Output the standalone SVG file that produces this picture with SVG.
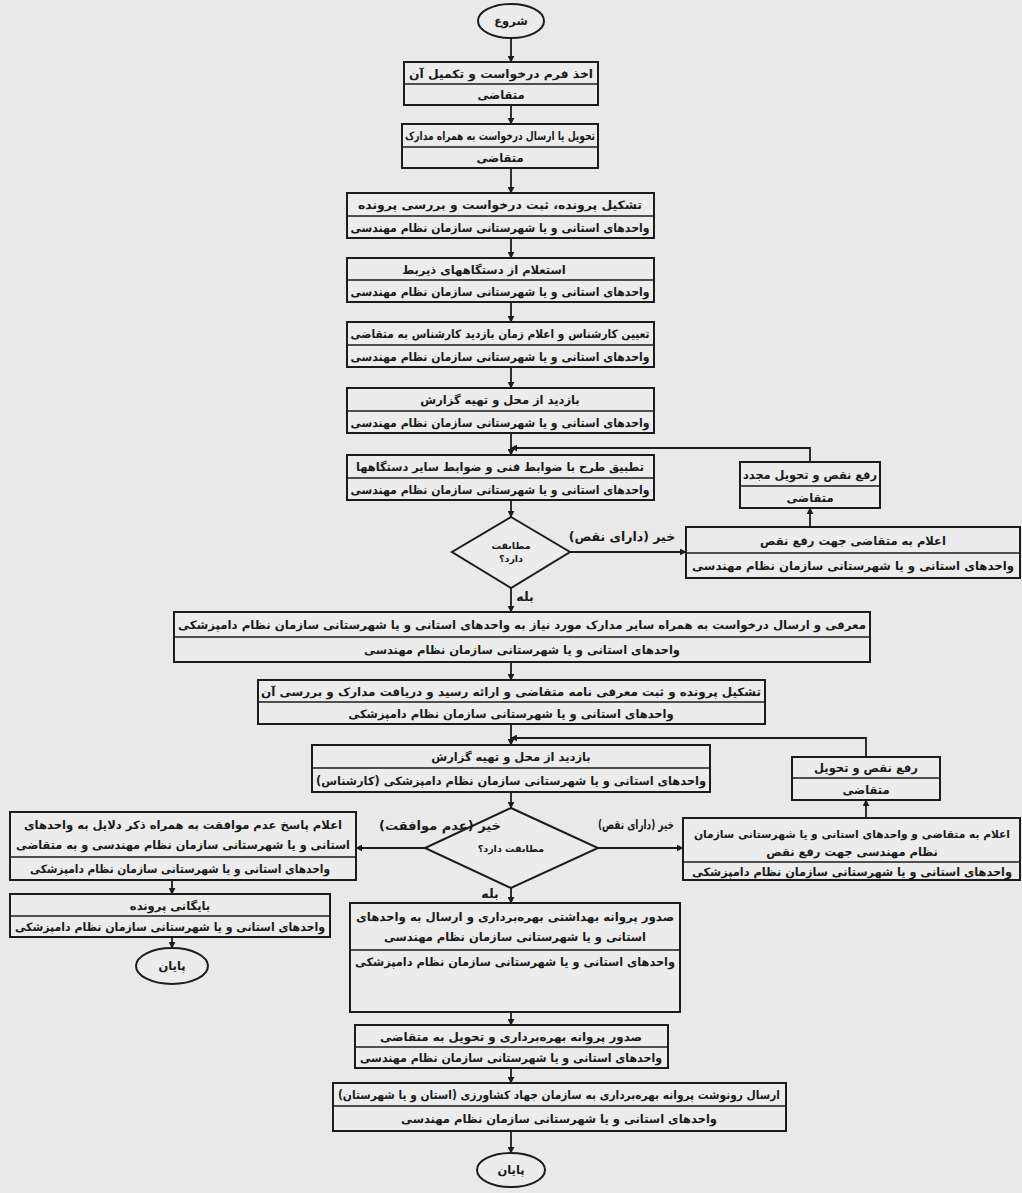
<svg xmlns="http://www.w3.org/2000/svg" width="1022" height="1193" viewBox="0 0 1022 1193">
<defs>
<style>
.bg{fill:#e9e9e9}
.box{fill:#ececec;stroke:#1c1c1c;stroke-width:2}
.div{stroke:#1c1c1c;stroke-width:1.6}
.t{font-family:"DejaVu Sans","Noto Sans",sans-serif;font-size:11.5px;font-weight:bold;fill:#1a1a1a;text-anchor:middle;direction:rtl}
.lbl{font-family:"DejaVu Sans","Noto Sans",sans-serif;font-size:12.5px;font-weight:bold;fill:#1a1a1a;text-anchor:middle;direction:rtl}
.sm{font-family:"DejaVu Sans","Noto Sans",sans-serif;font-size:9.5px;font-weight:bold;fill:#1a1a1a;text-anchor:middle;direction:rtl}
.c{fill:none;stroke:#1c1c1c;stroke-width:1.8}
</style>
<marker id="ah" viewBox="0 0 10 10" refX="9" refY="5" markerWidth="7" markerHeight="7" orient="auto" markerUnits="userSpaceOnUse">
<path d="M0,0 L10,5 L0,10 z" fill="#1c1c1c"/>
</marker>
</defs>
<rect class="bg" x="0" y="0" width="1022" height="1193"/>

<g id="start">
<ellipse class="box" cx="511" cy="21" rx="33" ry="17"/>
<text class="t" x="511" y="25">شروع</text>
</g>

<g id="n1">
<rect class="box" x="404" y="62" width="194" height="43"/>
<line class="div" x1="404" y1="84" x2="598" y2="84"/>
<text class="t" x="501" y="78" textLength="184" lengthAdjust="spacingAndGlyphs">اخذ فرم درخواست و تکمیل آن</text>
<text class="t" x="501" y="99">متقاضی</text>
</g>

<g id="n2">
<rect class="box" x="402" y="124" width="196" height="44"/>
<line class="div" x1="402" y1="147" x2="598" y2="147"/>
<text class="t" x="500" y="140" textLength="190" lengthAdjust="spacingAndGlyphs">تحویل یا ارسال درخواست به همراه مدارک</text>
<text class="t" x="500" y="162">متقاضی</text>
</g>

<g id="n3">
<rect class="box" x="347" y="193" width="307" height="45"/>
<line class="div" x1="347" y1="216" x2="654" y2="216"/>
<text class="t" x="500" y="209" textLength="284" lengthAdjust="spacingAndGlyphs">تشکیل پرونده، ثبت درخواست و بررسی پرونده</text>
<text class="t" x="500" y="232" textLength="299" lengthAdjust="spacingAndGlyphs">واحدهای استانی و یا شهرستانی سازمان نظام مهندسی</text>
</g>

<g id="n4">
<rect class="box" x="347" y="258" width="307" height="44"/>
<line class="div" x1="347" y1="280" x2="654" y2="280"/>
<text class="t" x="484" y="274">استعلام از دستگاههای ذیربط</text>
<text class="t" x="500" y="296" textLength="299" lengthAdjust="spacingAndGlyphs">واحدهای استانی و یا شهرستانی سازمان نظام مهندسی</text>
</g>

<g id="n5">
<rect class="box" x="347" y="322" width="307" height="45"/>
<line class="div" x1="347" y1="345" x2="654" y2="345"/>
<text class="t" x="500" y="338" textLength="299" lengthAdjust="spacingAndGlyphs">تعیین کارشناس و اعلام زمان بازدید کارشناس به متقاضی</text>
<text class="t" x="500" y="361" textLength="299" lengthAdjust="spacingAndGlyphs">واحدهای استانی و یا شهرستانی سازمان نظام مهندسی</text>
</g>

<g id="n6">
<rect class="box" x="347" y="388" width="307" height="45"/>
<line class="div" x1="347" y1="411" x2="654" y2="411"/>
<text class="t" x="500" y="404">بازدید از محل و تهیه گزارش</text>
<text class="t" x="500" y="427" textLength="299" lengthAdjust="spacingAndGlyphs">واحدهای استانی و یا شهرستانی سازمان نظام مهندسی</text>
</g>

<g id="n7">
<rect class="box" x="347" y="455" width="307" height="45"/>
<line class="div" x1="347" y1="478" x2="654" y2="478"/>
<text class="t" x="500" y="471" textLength="288" lengthAdjust="spacingAndGlyphs">تطبیق طرح با ضوابط فنی و ضوابط سایر دستگاهها</text>
<text class="t" x="500" y="494" textLength="299" lengthAdjust="spacingAndGlyphs">واحدهای استانی و یا شهرستانی سازمان نظام مهندسی</text>
</g>

<g id="d1">
<polygon class="box" points="511,517 570,552 511,588 452,552"/>
<text class="sm" x="511" y="549">مطابقت</text>
<text class="sm" x="511" y="562">دارد؟</text>
</g>

<g id="nA">
<rect class="box" x="686" y="527" width="334" height="51"/>
<line class="div" x1="686" y1="553" x2="1020" y2="553"/>
<text class="t" x="853" y="545">اعلام به متقاضی جهت رفع نقص</text>
<text class="t" x="853" y="570" textLength="322" lengthAdjust="spacingAndGlyphs">واحدهای استانی و یا شهرستانی سازمان نظام مهندسی</text>
</g>

<g id="nB">
<rect class="box" x="740" y="462" width="140" height="46"/>
<line class="div" x1="740" y1="486" x2="880" y2="486"/>
<text class="t" x="810" y="479" textLength="134" lengthAdjust="spacingAndGlyphs">رفع نقص و تحویل مجدد</text>
<text class="t" x="810" y="502">متقاضی</text>
</g>

<g id="n8">
<rect class="box" x="174" y="612" width="696" height="50"/>
<line class="div" x1="174" y1="637" x2="870" y2="637"/>
<text class="t" x="522" y="629" textLength="688" lengthAdjust="spacingAndGlyphs">معرفی و ارسال درخواست به همراه سایر مدارک مورد نیاز به واحدهای استانی و یا شهرستانی سازمان نظام دامپزشکی</text>
<text class="t" x="522" y="654">واحدهای استانی و یا شهرستانی سازمان نظام مهندسی</text>
</g>

<g id="n9">
<rect class="box" x="258" y="680" width="507" height="44"/>
<line class="div" x1="258" y1="702" x2="765" y2="702"/>
<text class="t" x="511" y="696" textLength="500" lengthAdjust="spacingAndGlyphs">تشکیل پرونده و ثبت معرفی نامه متقاضی و ارائه رسید و دریافت مدارک و بررسی آن</text>
<text class="t" x="511" y="718">واحدهای استانی و یا شهرستانی سازمان نظام دامپزشکی</text>
</g>

<g id="n10">
<rect class="box" x="312" y="745" width="398" height="47"/>
<line class="div" x1="312" y1="768" x2="710" y2="768"/>
<text class="t" x="511" y="761">بازدید از محل و تهیه گزارش</text>
<text class="t" x="511" y="785" textLength="390" lengthAdjust="spacingAndGlyphs">واحدهای استانی و یا شهرستانی سازمان نظام دامپزشکی (کارشناس)</text>
</g>

<g id="d2">
<polygon class="box" points="511,808 598,848 511,888 425,848"/>
<text class="sm" x="511" y="852">مطابقت دارد؟</text>
</g>

<g id="nC">
<rect class="box" x="683" y="818" width="337" height="62"/>
<line class="div" x1="683" y1="862" x2="1020" y2="862"/>
<text class="t" x="852" y="838" style="font-size:11px" textLength="316" lengthAdjust="spacingAndGlyphs">اعلام به متقاضی و واحدهای استانی و یا شهرستانی سازمان</text>
<text class="t" x="852" y="856">نظام مهندسی جهت رفع نقص</text>
<text class="t" x="852" y="876" textLength="320" lengthAdjust="spacingAndGlyphs">واحدهای استانی و یا شهرستانی سازمان نظام دامپزشکی</text>
</g>

<g id="nD">
<rect class="box" x="792" y="757" width="148" height="43"/>
<line class="div" x1="792" y1="778" x2="940" y2="778"/>
<text class="t" x="866" y="772">رفع نقص و تحویل</text>
<text class="t" x="866" y="794">متقاضی</text>
</g>

<g id="nE">
<rect class="box" x="10" y="812" width="346" height="68"/>
<line class="div" x1="10" y1="857" x2="356" y2="857"/>
<text class="t" x="183" y="829" textLength="318" lengthAdjust="spacingAndGlyphs">اعلام پاسخ عدم موافقت به همراه ذکر دلایل به واحدهای</text>
<text class="t" x="183" y="849" textLength="334" lengthAdjust="spacingAndGlyphs">استانی و یا شهرستانی سازمان نظام مهندسی و به متقاضی</text>
<text class="t" x="180" y="873" textLength="300" lengthAdjust="spacingAndGlyphs">واحدهای استانی و یا شهرستانی سازمان نظام دامپزشکی</text>
</g>

<g id="nF">
<rect class="box" x="10" y="894" width="320" height="43"/>
<line class="div" x1="10" y1="916" x2="330" y2="916"/>
<text class="t" x="170" y="910">بایگانی پرونده</text>
<text class="t" x="170" y="931" textLength="310" lengthAdjust="spacingAndGlyphs">واحدهای استانی و یا شهرستانی سازمان نظام دامپزشکی</text>
</g>

<g id="end1">
<ellipse class="box" cx="172" cy="966" rx="36" ry="18"/>
<text class="t" x="172" y="970">پایان</text>
</g>

<g id="nG">
<rect class="box" x="350" y="903" width="330" height="109"/>
<line class="div" x1="350" y1="950" x2="680" y2="950"/>
<text class="t" x="515" y="921" textLength="318" lengthAdjust="spacingAndGlyphs">صدور پروانه بهداشتی بهره‌برداری و ارسال به واحدهای</text>
<text class="t" x="515" y="941" textLength="262" lengthAdjust="spacingAndGlyphs">استانی و یا شهرستانی سازمان نظام مهندسی</text>
<text class="t" x="515" y="966" textLength="320" lengthAdjust="spacingAndGlyphs">واحدهای استانی و یا شهرستانی سازمان نظام دامپزشکی</text>
</g>

<g id="nH">
<rect class="box" x="355" y="1025" width="313" height="43"/>
<line class="div" x1="355" y1="1047" x2="668" y2="1047"/>
<text class="t" x="511" y="1041" textLength="262" lengthAdjust="spacingAndGlyphs">صدور پروانه بهره‌برداری و تحویل به متقاضی</text>
<text class="t" x="511" y="1062" textLength="302" lengthAdjust="spacingAndGlyphs">واحدهای استانی و یا شهرستانی سازمان نظام مهندسی</text>
</g>

<g id="nI">
<rect class="box" x="333" y="1083" width="453" height="48"/>
<line class="div" x1="333" y1="1106" x2="786" y2="1106"/>
<text class="t" x="559" y="1099" textLength="442" lengthAdjust="spacingAndGlyphs">ارسال رونوشت پروانه بهره‌برداری به سازمان جهاد کشاورزی (استان و یا شهرستان)</text>
<text class="t" x="559" y="1123">واحدهای استانی و یا شهرستانی سازمان نظام مهندسی</text>
</g>

<g id="end2">
<ellipse class="box" cx="511" cy="1170" rx="34" ry="17"/>
<text class="t" x="511" y="1174">پایان</text>
</g>

<g id="connectors">
<path class="c" d="M511,38 V62" marker-end="url(#ah)"/>
<path class="c" d="M511,105 V124" marker-end="url(#ah)"/>
<path class="c" d="M511,168 V193" marker-end="url(#ah)"/>
<path class="c" d="M511,238 V258" marker-end="url(#ah)"/>
<path class="c" d="M511,302 V322" marker-end="url(#ah)"/>
<path class="c" d="M511,367 V388" marker-end="url(#ah)"/>
<path class="c" d="M511,433 V455" marker-end="url(#ah)"/>
<path class="c" d="M511,500 V517" marker-end="url(#ah)"/>
<path class="c" d="M570,552 H686" marker-end="url(#ah)"/>
<path class="c" d="M810,527 V508" marker-end="url(#ah)"/>
<path class="c" d="M810,462 V448 H511" marker-end="url(#ah)"/>
<path class="c" d="M511,588 V612" marker-end="url(#ah)"/>
<path class="c" d="M511,662 V680" marker-end="url(#ah)"/>
<path class="c" d="M511,724 V745" marker-end="url(#ah)"/>
<path class="c" d="M866,818 V800" marker-end="url(#ah)"/>
<path class="c" d="M866,757 V738 H511" marker-end="url(#ah)"/>
<path class="c" d="M511,792 V808" marker-end="url(#ah)"/>
<path class="c" d="M598,848 H683" marker-end="url(#ah)"/>
<path class="c" d="M425,848 H356" marker-end="url(#ah)"/>
<path class="c" d="M511,888 V903" marker-end="url(#ah)"/>
<path class="c" d="M172,880 V894" marker-end="url(#ah)"/>
<path class="c" d="M172,937 V948" marker-end="url(#ah)"/>
<path class="c" d="M511,1012 V1025" marker-end="url(#ah)"/>
<path class="c" d="M511,1068 V1083" marker-end="url(#ah)"/>
<path class="c" d="M511,1131 V1153" marker-end="url(#ah)"/>
<text class="lbl" x="622" y="541">خیر (دارای نقص)</text>
<text class="lbl" x="525" y="601">بله</text>
<text class="lbl" x="440" y="830" textLength="122" lengthAdjust="spacingAndGlyphs">خیر (عدم موافقت)</text>
<text class="lbl" x="636" y="829" textLength="76" lengthAdjust="spacingAndGlyphs">خیر (دارای نقص)</text>
<text class="lbl" x="490" y="898">بله</text>
</g>
</svg>
